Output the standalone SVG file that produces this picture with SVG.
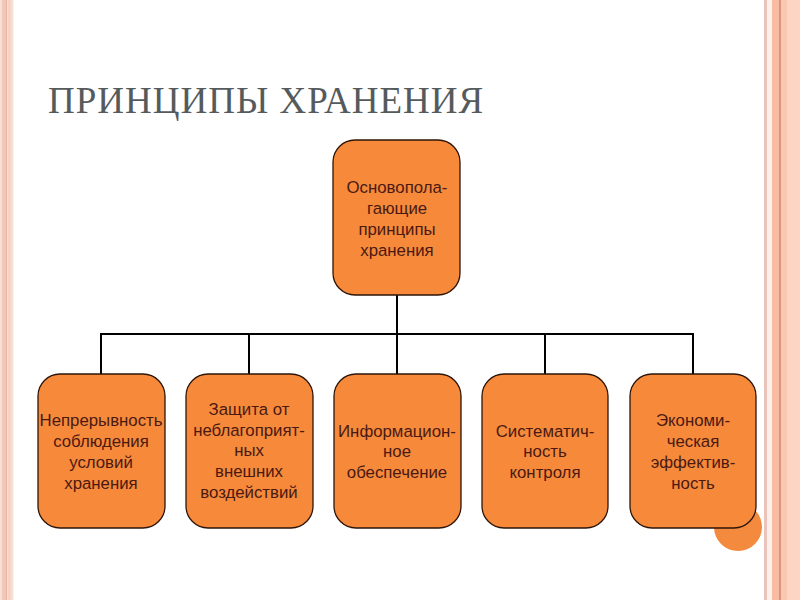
<svg xmlns="http://www.w3.org/2000/svg" width="800" height="600" viewBox="0 0 800 600">
<style>
.box{fill:#f7893b;stroke:#2e1508;stroke-width:1.3}
.t{font-family:"Liberation Sans",Arial,sans-serif;font-size:16.8px;fill:#4a1a12;text-anchor:middle}
.c{stroke:#000;stroke-width:2;fill:none}
</style>
<rect width="800" height="600" fill="#ffffff"/>
<g id="border-left">
<rect x="0" y="0" width="13" height="600" fill="#f8dfd5"/>
<rect x="2" y="0" width="4" height="600" fill="#f1c8b7"/>
<rect x="6" y="0" width="1" height="600" fill="#e6b3a0"/>
<rect x="8" y="0" width="3" height="600" fill="#f5d4c6"/>
<rect x="13" y="0" width="1" height="600" fill="#eef6f8"/>
</g>
<g id="border-right">
<rect x="764" y="0" width="36" height="600" fill="#fbd3c2"/>
<rect x="764" y="0" width="3" height="600" fill="#eac4ba"/>
<rect x="767" y="0" width="5" height="600" fill="#fdf0ea"/>
<rect x="772" y="0" width="7" height="600" fill="#f8bca2"/>
<rect x="779" y="0" width="2" height="600" fill="#dc9680"/>
<rect x="781" y="0" width="6" height="600" fill="#f9c8b1"/>
<rect x="787" y="0" width="13" height="600" fill="#fcd5c4"/>
</g>
<text x="48" y="113" font-family="Liberation Serif,'Times New Roman',serif" font-size="37" fill="#555b5d" letter-spacing="1">ПРИНЦИПЫ ХРАНЕНИЯ</text>
<circle cx="738" cy="527" r="24" fill="#f48a3d"/>
<g id="connectors">
<path class="c" d="M397 295V334M101 334H694M101 333V374M249 333V374M397 333V374M545 333V374M693 333V374"/>
</g>
<g id="root">
<rect class="box" x="333" y="140" width="127" height="155" rx="22"/>
<text class="t" x="397" y="193">Основопола-</text>
<text class="t" x="397" y="214">гающие</text>
<text class="t" x="397" y="235">принципы</text>
<text class="t" x="397" y="256">хранения</text>
</g>
<g id="n1">
<rect class="box" x="38" y="374" width="127" height="154" rx="22"/>
<text class="t" x="101" y="426">Непрерывность</text>
<text class="t" x="101" y="447">соблюдения</text>
<text class="t" x="101" y="468">условий</text>
<text class="t" x="101" y="489">хранения</text>
</g>
<g id="n2">
<rect class="box" x="186" y="374" width="127" height="154" rx="22"/>
<text class="t" x="249" y="415">Защита от</text>
<text class="t" x="249" y="436">неблагоприят-</text>
<text class="t" x="249" y="456">ных</text>
<text class="t" x="249" y="477">внешних</text>
<text class="t" x="249" y="498">воздействий</text>
</g>
<g id="n3">
<rect class="box" x="334" y="374" width="127" height="154" rx="22"/>
<text class="t" x="397" y="437">Информацион-</text>
<text class="t" x="397" y="457">ное</text>
<text class="t" x="397" y="478">обеспечение</text>
</g>
<g id="n4">
<rect class="box" x="482" y="374" width="126" height="154" rx="22"/>
<text class="t" x="545" y="437">Систематич-</text>
<text class="t" x="545" y="457">ность</text>
<text class="t" x="545" y="478">контроля</text>
</g>
<g id="n5">
<rect class="box" x="630" y="374" width="126" height="154" rx="22"/>
<text class="t" x="693" y="426">Экономи-</text>
<text class="t" x="693" y="447">ческая</text>
<text class="t" x="693" y="468">эффектив-</text>
<text class="t" x="693" y="489">ность</text>
</g>
</svg>
